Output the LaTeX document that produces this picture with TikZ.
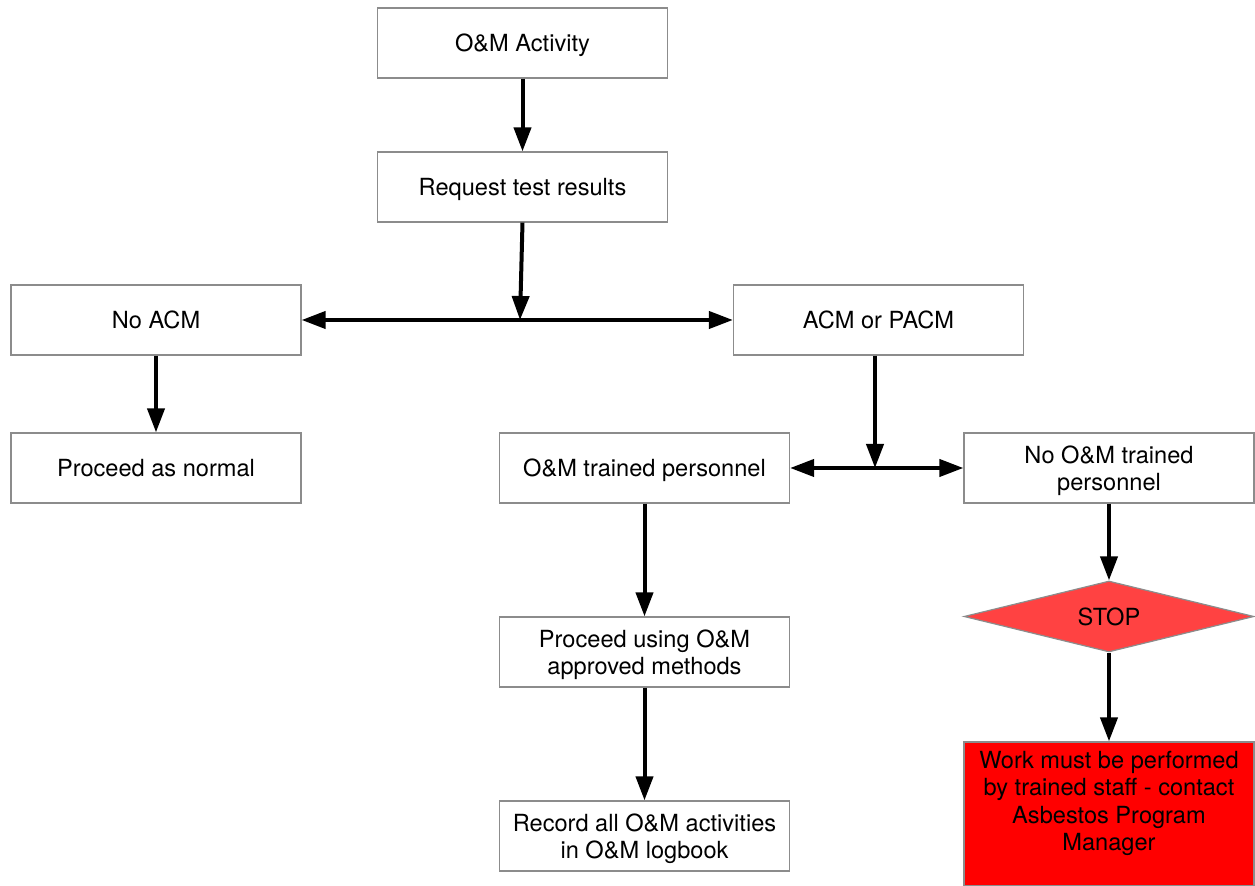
\documentclass[tikz,border=0pt]{standalone}
\usepackage{fontspec}
\setmainfont{TeX Gyre Heros}
\usetikzlibrary{arrows.meta,shapes.geometric}
\definecolor{boxgray}{HTML}{8C8C8C}
\definecolor{stopred}{HTML}{FF4242}
\definecolor{workred}{HTML}{FF0000}
\begin{document}
\begin{tikzpicture}[x=0.5pt,y=-0.5pt,
  every node/.style={font=\fontsize{11.8pt}{13.6pt}\selectfont},
  box/.style={draw=boxgray,line width=0.6pt,minimum width=145pt,minimum height=35pt,align=center,inner sep=0pt,text depth=0pt},
  flow/.style={line width=2pt,-{Triangle[length=12pt,width=8.5pt]}},
  biflow/.style={line width=2pt,{Triangle[length=12pt,width=8.5pt]}-{Triangle[length=12pt,width=8.5pt]}}]
\useasboundingbox (0,0) rectangle (1255,886);
\node[box] (act) at (522.5,43) {O\&M Activity};
\node[box] (req) at (522.5,187) {Request test results};
\node[box] (noacm) at (156,320) {No ACM};
\node[box] (acm) at (878.5,320) {ACM or PACM};
\node[box] (normal) at (156,468) {Proceed as normal};
\node[box] (omt) at (644.5,468) {O\&M trained personnel};
\node[box] (nomt) at (1109,468) {No O\&M trained\\personnel};
\node[draw=boxgray,line width=0.6pt,fill=stopred,diamond,aspect=4.1,minimum width=145pt,minimum height=35.5pt,inner sep=0pt] (stop) at (1109,616.5) {STOP};
\node[box] (approved) at (644.5,652) {Proceed using O\&M\\approved methods};
\node[box] (record) at (644.5,836) {Record all O\&M activities\\in O\&M logbook};
\node[box,fill=workred,minimum height=72pt,
  label={[anchor=north,align=center,yshift=-1.5pt,font=\fontsize{11.8pt}{13.6pt}\selectfont]north:Work must be performed\\by trained staff - contact\\Asbestos Program\\Manager}] (work) at (1109,814) {};
\coordinate (j1) at (520,320);
\coordinate (j2) at (875,468);
\draw[flow] (act.south) -- (req.north);
\draw[flow] (req.south) -- (j1);
\draw[biflow] (noacm.east) -- (acm.west);
\draw[flow] (noacm.south) -- (normal.north);
\draw[flow] (acm.south -| j2) -- (j2);
\draw[biflow] (omt.east) -- (nomt.west);
\draw[flow] (omt.south) -- (approved.north);
\draw[flow] (approved.south) -- (record.north);
\draw[flow] (nomt.south) -- (stop.north);
\draw[flow] (stop.south) -- (work.north);
\end{tikzpicture}
\end{document}
